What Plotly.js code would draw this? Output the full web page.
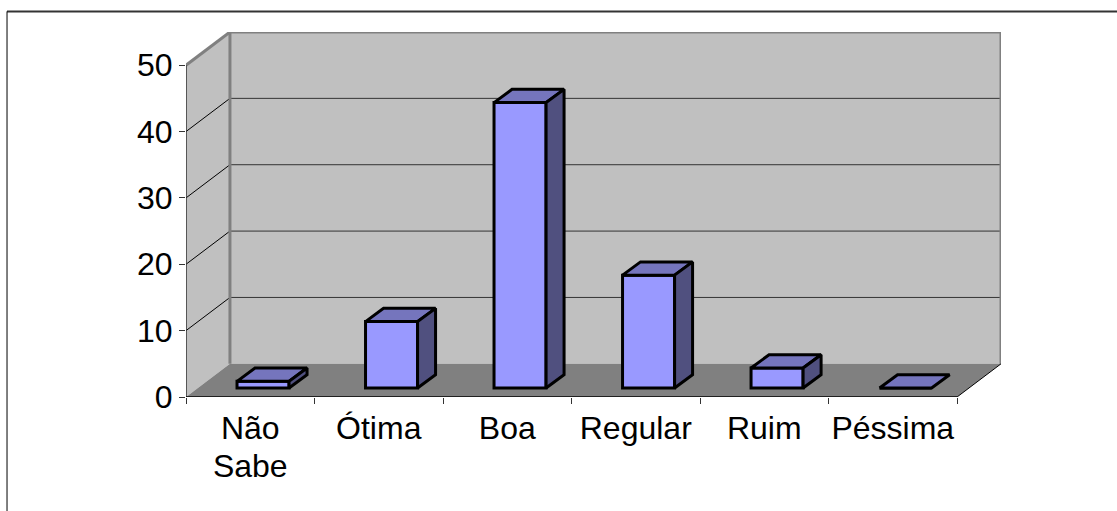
<!DOCTYPE html>
<html>
<head>
<meta charset="utf-8">
<script src="https://cdn.plot.ly/plotly-3.0.1.min.js"></script>
<style>html,body{margin:0;padding:0;background:#fff}#chart{width:1117px;height:511px}</style>
</head>
<body>
<div id="chart"></div>
<script>
var categories = ["Não<br>Sabe", "Ótima", "Boa", "Regular", "Ruim", "Péssima"];
var values = [1, 10, 43, 17, 3, 0];
var yTicks = [0, 10, 20, 30, 40, 50];

// 3D-look geometry in axis units
var xMin = -0.5, xEnd = 5.5, depthX = 0.342, depthY = 5;
var floorX = 0.103, floorY = 1.36, barW = 0.405, barDX = 0.14, barDY = 2.0;
var yMax = 50;

var tickFont = {family: '"Liberation Sans", Arial, sans-serif', size: 32, color: '#000'};
var shapes = [];
function poly(pts, fill, lineColor, lineW) {
  var d = pts.map(function (p, i) { return (i ? 'L' : 'M') + p[0] + ',' + p[1]; }).join(' ') + ' Z';
  shapes.push({type: 'path', path: d, xref: 'x2', yref: 'y', layer: 'below', fillcolor: fill,
    line: {color: lineColor || 'rgba(0,0,0,0)', width: lineW || 0}});
}
function seg(x0, y0, x1, y1, color, w) {
  shapes.push({type: 'line', xref: 'x2', yref: 'y', x0: x0, y0: y0, x1: x1, y1: y1, layer: 'below',
    line: {color: color, width: w}});
}
var xB = xMin + depthX, xE = xEnd + depthX;
// back wall, side wall, floor
poly([[xB, depthY], [xE, depthY], [xE, yMax + depthY], [xB, yMax + depthY]], '#C0C0C0');
poly([[xMin, 0], [xB, depthY], [xB, yMax + depthY], [xMin, yMax]], '#C0C0C0');
poly([[xMin, 0], [xEnd, 0], [xE, depthY], [xB, depthY]], '#808080');
// grid lines
yTicks.slice(1, 5).forEach(function (v) {
  seg(xB, v + depthY, xE, v + depthY, '#333333', 1);
  seg(xMin, v, xB, v + depthY, '#000000', 1);
});
// wall borders
seg(xB, depthY, xB, yMax + depthY, '#808080', 3);
seg(xE, depthY, xE, yMax + depthY, '#808080', 3);
seg(xB, yMax + depthY, xE, yMax + depthY, '#808080', 3);
seg(xMin, yMax, xB, yMax + depthY, '#808080', 3);
// axis lines
seg(xMin, 0, xMin, yMax, '#333333', 1.5);
seg(xMin, 0, xEnd, 0, '#000000', 1.5);
seg(xEnd, 0, xE, depthY, '#000000', 1);

// page frame
shapes.push({type: 'line', xref: 'paper', yref: 'paper', x0: -0.2196, x1: 1.2, y0: 1.0565, y1: 1.0565,
  line: {color: '#333333', width: 2}});
shapes.push({type: 'line', xref: 'paper', yref: 'paper', x0: -0.2196, x1: -0.2196, y0: -0.4, y1: 1.0565,
  line: {color: '#000000', width: 1}});

var traces = [{
  type: 'bar', x: categories, y: values, base: values.map(function () { return floorY; }),
  offset: -0.5 + floorX + 0.294, width: barW,
  marker: {color: '#9999FF', line: {color: '#000', width: 3}}, hoverinfo: 'skip', showlegend: false
}];
function face(xs, ys, color) {
  traces.push({type: 'scatter', mode: 'lines', xaxis: 'x2', yaxis: 'y', x: xs, y: ys, fill: 'toself',
    fillcolor: color, line: {color: '#000', width: 3}, hoverinfo: 'skip', showlegend: false});
}
values.forEach(function (v, i) {
  var l = i - 0.5 + floorX + 0.294, r = l + barW, b = floorY, t = floorY + v;
  face([l, r, r + barDX, l + barDX, l], [t, t, t + barDY, t + barDY, t], '#7575BD');
  if (v > 0) face([r, r + barDX, r + barDX, r, r], [b, b + barDY, t + barDY, t, b], '#50507F');
});

var layout = {
  width: 1117, height: 511, autosize: false,
  margin: {l: 186, r: 116, t: 32, b: 114, pad: 0},
  paper_bgcolor: '#fff', plot_bgcolor: 'rgba(0,0,0,0)',
  showlegend: false, shapes: shapes,
  xaxis: {type: 'category', categoryorder: 'array', categoryarray: categories,
    range: [xMin, xE], tickson: 'boundaries', ticks: 'outside', ticklen: 6, tickwidth: 1, ticklabelstandoff: 9,
    tickcolor: '#333', showgrid: false, zeroline: false, showline: false, tickfont: tickFont, tickangle: 0, automargin: false},
  xaxis2: {type: 'linear', overlaying: 'x', range: [xMin, xE], visible: false, fixedrange: true, anchor: 'y'},
  yaxis: {range: [0, yMax + depthY], tickmode: 'array', tickvals: yTicks, ticktext: yTicks.map(String),
    ticks: 'outside', ticklen: 6, tickwidth: 1, tickcolor: '#333', showgrid: false, zeroline: false,
    showline: false, tickfont: tickFont, automargin: false}
};
Plotly.newPlot('chart', traces, layout, {displayModeBar: false, staticPlot: true}).then(function () {
  // reference uses a tighter line pitch for the two-line label
  document.querySelectorAll('.xtick text tspan.line').forEach(function (t) {
    if (parseFloat(t.getAttribute('dy')) > 0) t.setAttribute('dy', '1.2em');
  });
});
</script>
</body>
</html>
